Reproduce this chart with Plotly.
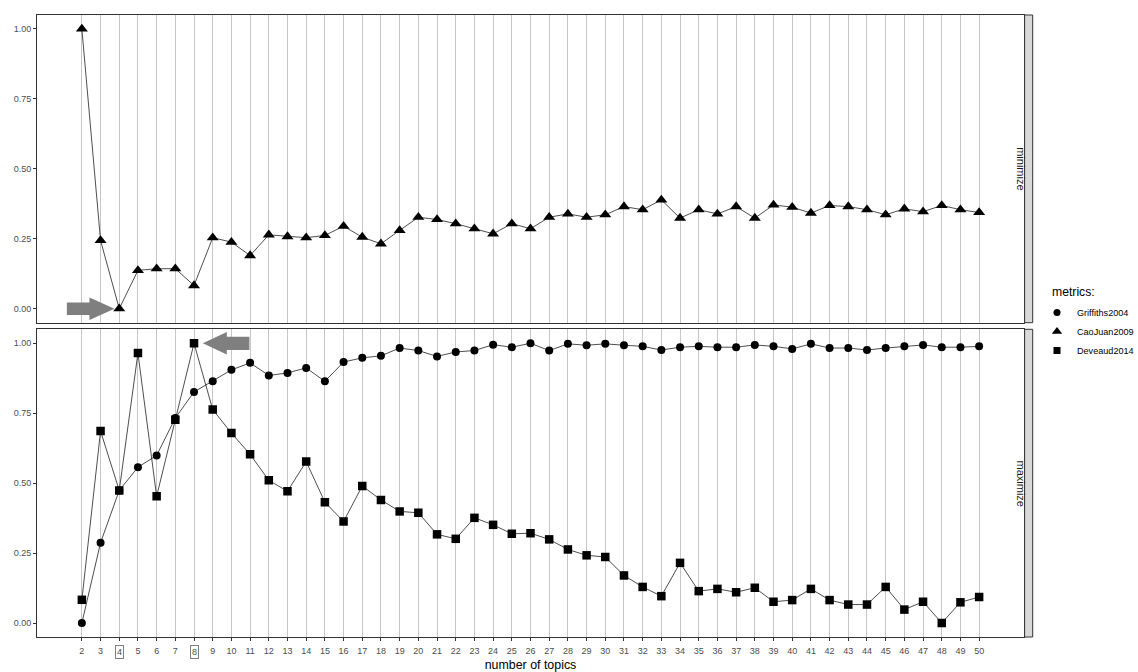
import plotly.graph_objects as go
from plotly.subplots import make_subplots

topics = list(range(2, 51))

griffiths2004 = [0.000, 0.287, 0.474, 0.557, 0.599, 0.733, 0.826, 0.864, 0.905, 0.930,
                 0.885, 0.894, 0.912, 0.864, 0.933, 0.948, 0.955, 0.983, 0.974, 0.953,
                 0.969, 0.974, 0.995, 0.986, 1.000, 0.974, 0.998, 0.993, 0.998, 0.993,
                 0.989, 0.976, 0.986, 0.989, 0.986, 0.986, 0.994, 0.989, 0.980, 0.998,
                 0.983, 0.983, 0.976, 0.983, 0.989, 0.994, 0.986, 0.986, 0.989]

caojuan2009 = [1.000, 0.244, 0.000, 0.137, 0.143, 0.143, 0.083, 0.254, 0.238, 0.190,
               0.264, 0.258, 0.254, 0.262, 0.295, 0.256, 0.232, 0.280, 0.327, 0.319,
               0.304, 0.286, 0.268, 0.304, 0.286, 0.327, 0.339, 0.327, 0.336, 0.365,
               0.354, 0.389, 0.324, 0.354, 0.339, 0.365, 0.324, 0.371, 0.363, 0.342,
               0.369, 0.365, 0.354, 0.336, 0.357, 0.347, 0.369, 0.354, 0.344]

deveaud2014 = [0.083, 0.686, 0.474, 0.965, 0.453, 0.727, 1.000, 0.763, 0.679, 0.603,
               0.510, 0.471, 0.577, 0.432, 0.363, 0.490, 0.440, 0.399, 0.394, 0.317,
               0.301, 0.376, 0.351, 0.319, 0.321, 0.299, 0.263, 0.242, 0.236, 0.170,
               0.129, 0.096, 0.215, 0.114, 0.122, 0.110, 0.126, 0.076, 0.082, 0.122,
               0.082, 0.066, 0.066, 0.129, 0.048, 0.076, 0.000, 0.074, 0.093]

y_ticks = [0.0, 0.25, 0.5, 0.75, 1.0]
y_tick_labels = ["0.00", "0.25", "0.50", "0.75", "1.00"]
strip_labels = ["minimize", "maximize"]
legend_title = "metrics:"
x_title = "number of topics"

FONT = "Liberation Sans, Arial, sans-serif"
TICK_GREY = "#4D4D4D"
BORDER = "#333333"
TICK_SIZE = 9

W, H = 1138, 672
ML, MR, MT, MB = 37, 114, 15, 35
pw = W - ML - MR
ph = H - MT - MB

best_min = topics[caojuan2009.index(min(caojuan2009))]
best_max = topics[deveaud2014.index(max(deveaud2014))]
boxed = [best_min, best_max]

fig = make_subplots(rows=2, cols=1, shared_xaxes=True, vertical_spacing=6.6 / ph)

line_style = dict(color="black", width=0.7)

fig.add_trace(go.Scatter(x=topics, y=caojuan2009, mode="lines+markers", line=line_style,
                         marker=dict(symbol="triangle-up", size=10.5, color="black"),
                         showlegend=False, name="CaoJuan2009"), row=1, col=1)
fig.add_trace(go.Scatter(x=topics, y=griffiths2004, mode="lines+markers", line=line_style,
                         marker=dict(symbol="circle", size=8, color="black"),
                         showlegend=False, name="Griffiths2004"), row=2, col=1)
fig.add_trace(go.Scatter(x=topics, y=deveaud2014, mode="lines+markers", line=line_style,
                         marker=dict(symbol="square", size=8.5, color="black"),
                         showlegend=False, name="Deveaud2014"), row=2, col=1)

# legend-only entries (markers only, like ggplot's key)
for nm, sym, sz in [("Griffiths2004", "circle", 7), ("CaoJuan2009", "triangle-up", 9),
                    ("Deveaud2014", "square", 7)]:
    fig.add_trace(go.Scatter(x=[None], y=[None], mode="markers", name=nm,
                             marker=dict(symbol=sym, size=sz, color="black"),
                             showlegend=True), row=1, col=1)

xrange = [topics[0] - 0.05 * (topics[-1] - topics[0]), topics[-1] + 0.05 * (topics[-1] - topics[0])]
tick_text = [("" if t in boxed else str(t)) for t in topics]

common_x = dict(range=xrange, tickvals=topics, showgrid=True, gridcolor="#C6C6C6", gridwidth=1,
                showline=True, mirror=True, linecolor=BORDER, linewidth=1, zeroline=False,
                automargin=False)
fig.update_xaxes(**common_x, showticklabels=False, ticks="", row=1, col=1)
fig.update_xaxes(**common_x, ticktext=tick_text, showticklabels=True, ticks="outside",
                 ticklen=3, tickcolor=BORDER, ticklabelstandoff=2,
                 tickfont=dict(family=FONT, size=TICK_SIZE, color=TICK_GREY),
                 title=dict(text=x_title, font=dict(family=FONT, size=12.4, color="black"),
                            standoff=5),
                 row=2, col=1)
fig.update_yaxes(range=[-0.05, 1.05], tickvals=y_ticks, ticktext=y_tick_labels, showgrid=False,
                 zeroline=False, showline=True, mirror=True, linecolor=BORDER, linewidth=1,
                 ticks="outside", ticklen=3, tickcolor=BORDER, automargin=False,
                 tickfont=dict(family=FONT, size=TICK_SIZE, color=TICK_GREY))

# arrows pointing at the best values (pixel-sized, anchored at the data point)
arrow_right = "M -52.4,-6.3 L -29.8,-6.3 L -29.8,-11.2 L -4.8,0 L -29.8,11.2 L -29.8,6.3 L -52.4,6.3 Z"
arrow_left = "M 55.4,-6.6 L 32.8,-6.6 L 32.8,-11.3 L 8.8,0 L 32.8,11.3 L 32.8,6.6 L 55.4,6.6 Z"
fig.add_shape(type="path", xref="x", yref="y", xsizemode="pixel", ysizemode="pixel",
              xanchor=best_min, yanchor=min(caojuan2009), path=arrow_right,
              fillcolor="#7F7F7F", line=dict(width=0))
fig.add_shape(type="path", xref="x2", yref="y2", xsizemode="pixel", ysizemode="pixel",
              xanchor=best_max, yanchor=max(deveaud2014), path=arrow_left,
              fillcolor="#7F7F7F", line=dict(width=0))

# facet strips on the right
sx0 = 1.0 + 0.6 / pw
sx1 = (1032.7 - ML) / pw
for i, lab in enumerate(strip_labels):
    yr = "y domain" if i == 0 else "y2 domain"
    fig.add_shape(type="rect", xref="paper", yref=yr, x0=sx0, x1=sx1, y0=0, y1=1,
                  fillcolor="#D9D9D9", line=dict(color=BORDER, width=1))
    fig.add_annotation(xref="paper", yref=yr, x=(sx0 + sx1) / 2, y=0.5, text=lab,
                       textangle=90, showarrow=False,
                       font=dict(family=FONT, size=11, color="#1A1A1A"))

# boxed tick labels for the chosen numbers of topics
for t in boxed:
    fig.add_annotation(xref="x2", yref="y2 domain", x=t, y=0, yanchor="top", yshift=-8,
                       text=str(t), showarrow=False, bordercolor="#7F7F7F", borderwidth=1,
                       borderpad=1, font=dict(family=FONT, size=TICK_SIZE, color=TICK_GREY))

# legend title placed like ggplot's (left of the keys)
fig.add_annotation(xref="paper", yref="paper", x=(1050 - ML) / pw, y=(H - MB - 292) / ph,
                   xanchor="left", yanchor="middle", text=legend_title, showarrow=False,
                   font=dict(family=FONT, size=12.2, color="black"))

fig.update_layout(
    width=W, height=H,
    margin=dict(l=ML, r=MR, t=MT, b=MB, autoexpand=False),
    paper_bgcolor="white", plot_bgcolor="white",
    font=dict(family=FONT, color="black"),
    legend=dict(font=dict(family=FONT, size=9.1, color="black"),
                x=(1037 - ML) / pw, xanchor="left", y=(H - MB - 298) / ph, yanchor="top",
                bgcolor="rgba(0,0,0,0)", tracegroupgap=0, itemwidth=30),
)

fig.write_html("out.html", post_script="document.body.style.margin='0';",
               config={"displayModeBar": False})
